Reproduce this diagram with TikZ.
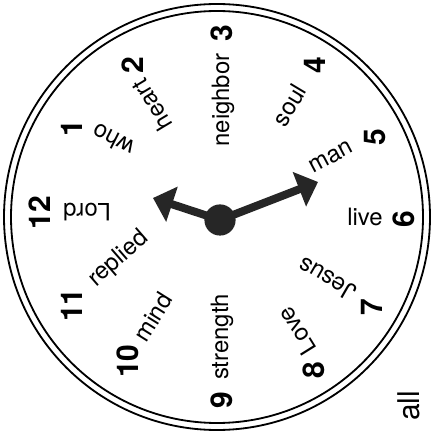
\documentclass[tikz,border=0pt]{standalone}
\usepackage{fontspec}
\setmainfont{TeX Gyre Heros}
\usetikzlibrary{arrows.meta}

\tikzset{
  num/.style={font=\fontsize{21.3}{24}\selectfont\bfseries, rotate=90, inner sep=0pt},
  word/.style={font=\fontsize{17}{20}\selectfont, inner sep=0pt},
  hand/.style={line width=0.2cm, black!85, -{Triangle[length=0.5cm,width=0.9cm]}}
}

\begin{document}
\begin{tikzpicture}

\useasboundingbox (-5.425,-5.525) rectangle (5.425,5.425);

% Clock rim
\draw[line width=1.3pt] (0,0) circle (5.325);
\draw[line width=1.3pt] (0,0) circle (5.15);

% Hour numbers
\node[num] (n12) at (-4.425,0.1) {12};
\node[num] (n1) at (-3.625,2.225) {1};
\node[num] (n2) at (-2.1,3.8) {2};
\node[num] (n3) at (0.125,4.6) {3};
\node[num] (n4) at (2.45,3.8) {4};
\node[num] (n5) at (3.95,2.0) {5};
\node[num] (n6) at (4.675,-0.05) {6};
\node[num] (n7) at (3.875,-2.25) {7};
\node[num] (n8) at (2.425,-3.825) {8};
\node[num] (n9) at (0.125,-4.575) {9};
\node[num] (n10) at (-2.225,-3.6) {10};
\node[num] (n11) at (-3.625,-2.2) {11};

% Words
\node[word, rotate=180] (lord) at (-3.25,0.125) {Lord};
\node[word, rotate=153] (who) at (-2.6,1.925) {who};
\node[word, rotate=121] (heart) at (-1.625,2.8) {heart};
\node[word, rotate=90] (neighbor) at (0.15,2.925) {neighbor};
\node[word, rotate=59] (soul) at (1.8,2.8) {soul};
\node[word, rotate=28] (man) at (2.85,1.5) {man};
\node[word] (live) at (3.7,0) {live};
\node[word, rotate=150] (jesus) at (2.75,-1.55) {Jesus};
\node[word, rotate=122] (love) at (2.0,-2.85) {Love};
\node[word, rotate=90] (strength) at (0.125,-3.0) {strength};
\node[word, rotate=58] (mind) at (-1.6,-2.5) {mind};
\node[word, rotate=41] (replied) at (-2.45,-1.05) {replied};

\node[font=\fontsize{21.3}{24}\selectfont, rotate=90, inner sep=0pt] (all) at (4.8,-4.725) {all};

% Hands
\coordinate (tipshort) at (-1.6,0.475);
\coordinate (tiplong) at (2.525,0.875);
\node[circle, fill=black!85, minimum size=0.78cm, inner sep=0pt] (hub) at (0.075,-0.075) {};
\draw[hand] (hub.center) -- (tipshort);
\draw[hand] (hub.center) -- (tiplong);

\end{tikzpicture}
\end{document}
